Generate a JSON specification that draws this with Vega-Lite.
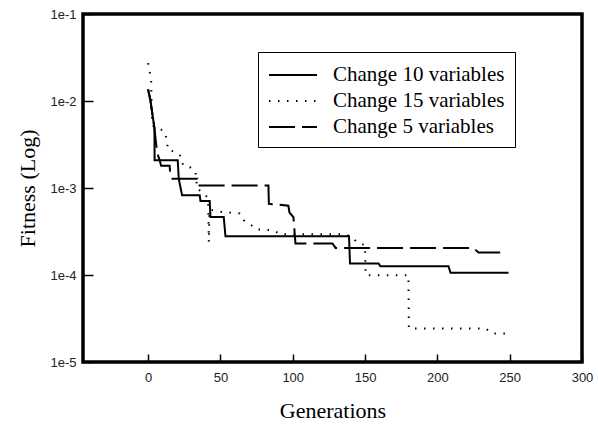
{
  "$schema": "https://vega.github.io/schema/vega-lite/v6.json",
  "width": 499,
  "height": 348,
  "autosize": "none",
  "padding": {"left": 83, "top": 14, "right": 16, "bottom": 63},
  "background": "white",
  "config": {
    "view": {"stroke": "black", "strokeWidth": 3.5},
    "axis": {
      "domain": false,
      "grid": false,
      "ticks": true,
      "tickColor": "black",
      "tickWidth": 1.5,
      "labelFont": "Liberation Sans",
      "labelFontSize": 13,
      "labelColor": "#222",
      "titleFont": "Liberation Serif",
      "titleFontSize": 22,
      "titleFontWeight": "normal",
      "titleColor": "black"
    },
    "legend": {
      "labelFont": "Liberation Serif",
      "labelFontSize": 21,
      "labelColor": "black",
      "labelLimit": 0
    }
  },
  "data": {
    "values": [
      {"s": "Change 10 variables", "g": 0, "f": 0.0136},
      {"s": "Change 10 variables", "g": 1.6, "f": 0.0102},
      {"s": "Change 10 variables", "g": 4.4, "f": 0.00485},
      {"s": "Change 10 variables", "g": 4.5, "f": 0.00208},
      {"s": "Change 10 variables", "g": 20.5, "f": 0.00208},
      {"s": "Change 10 variables", "g": 21.2, "f": 0.00128},
      {"s": "Change 10 variables", "g": 23.5, "f": 0.000824},
      {"s": "Change 10 variables", "g": 35.7, "f": 0.000824},
      {"s": "Change 10 variables", "g": 36.2, "f": 0.00071},
      {"s": "Change 10 variables", "g": 42.6, "f": 0.00071},
      {"s": "Change 10 variables", "g": 43.1, "f": 0.000465},
      {"s": "Change 10 variables", "g": 52.3, "f": 0.000465},
      {"s": "Change 10 variables", "g": 53.5, "f": 0.000279},
      {"s": "Change 10 variables", "g": 138.9, "f": 0.000279},
      {"s": "Change 10 variables", "g": 139.6, "f": 0.000136},
      {"s": "Change 10 variables", "g": 159.3, "f": 0.000136},
      {"s": "Change 10 variables", "g": 160.6, "f": 0.000126},
      {"s": "Change 10 variables", "g": 207.7, "f": 0.000126},
      {"s": "Change 10 variables", "g": 209.1, "f": 0.000106},
      {"s": "Change 10 variables", "g": 249.2, "f": 0.000106},

      {"s": "Change 5 variables", "g": 0, "f": 0.0136},
      {"s": "Change 5 variables", "g": 1.6, "f": 0.0102},
      {"s": "Change 5 variables", "g": 4.4, "f": 0.00485},
      {"s": "Change 5 variables", "g": 6.2, "f": 0.00257},
      {"s": "Change 5 variables", "g": 8.0, "f": 0.00208},
      {"s": "Change 5 variables", "g": 9.0, "f": 0.0018},
      {"s": "Change 5 variables", "g": 14.9, "f": 0.0018},
      {"s": "Change 5 variables", "g": 15.4, "f": 0.0014},
      {"s": "Change 5 variables", "g": 16.8, "f": 0.00128},
      {"s": "Change 5 variables", "g": 34.1, "f": 0.00128},
      {"s": "Change 5 variables", "g": 34.6, "f": 0.00107},
      {"s": "Change 5 variables", "g": 83.2, "f": 0.00107},
      {"s": "Change 5 variables", "g": 83.5, "f": 0.000659},
      {"s": "Change 5 variables", "g": 97.0, "f": 0.000625},
      {"s": "Change 5 variables", "g": 97.7, "f": 0.000526},
      {"s": "Change 5 variables", "g": 100.5, "f": 0.000461},
      {"s": "Change 5 variables", "g": 101.9, "f": 0.00023},
      {"s": "Change 5 variables", "g": 127.5, "f": 0.00023},
      {"s": "Change 5 variables", "g": 129.6, "f": 0.000205},
      {"s": "Change 5 variables", "g": 225.0, "f": 0.000205},
      {"s": "Change 5 variables", "g": 228.4, "f": 0.000181},
      {"s": "Change 5 variables", "g": 245.7, "f": 0.000181},
      {"s": "Change 5 variables", "g": 247.8, "f": 0.000171},

      {"s": "Change 15 variables", "g": 0, "f": 0.0272},
      {"s": "Change 15 variables", "g": 2.1, "f": 0.0176},
      {"s": "Change 15 variables", "g": 2.5, "f": 0.0085},
      {"s": "Change 15 variables", "g": 2.8, "f": 0.00525},
      {"s": "Change 15 variables", "g": 11.3, "f": 0.0045},
      {"s": "Change 15 variables", "g": 13.1, "f": 0.00353},
      {"s": "Change 15 variables", "g": 13.6, "f": 0.00276},
      {"s": "Change 15 variables", "g": 18.9, "f": 0.00259},
      {"s": "Change 15 variables", "g": 22.8, "f": 0.00231},
      {"s": "Change 15 variables", "g": 24.2, "f": 0.00182},
      {"s": "Change 15 variables", "g": 29.3, "f": 0.00172},
      {"s": "Change 15 variables", "g": 32.7, "f": 0.00157},
      {"s": "Change 15 variables", "g": 33.9, "f": 0.000984},
      {"s": "Change 15 variables", "g": 37.3, "f": 0.0009},
      {"s": "Change 15 variables", "g": 40.8, "f": 0.000788},
      {"s": "Change 15 variables", "g": 41.6, "f": 0.00063},
      {"s": "Change 15 variables", "g": 42.0, "f": 0.00024},
      {"s": "Change 15 variables", "g": 42.4, "f": 0.00056},
      {"s": "Change 15 variables", "g": 45.2, "f": 0.000555},
      {"s": "Change 15 variables", "g": 51.2, "f": 0.00053},
      {"s": "Change 15 variables", "g": 63.3, "f": 0.00051},
      {"s": "Change 15 variables", "g": 66.1, "f": 0.000426},
      {"s": "Change 15 variables", "g": 70.7, "f": 0.000382},
      {"s": "Change 15 variables", "g": 74.9, "f": 0.000335},
      {"s": "Change 15 variables", "g": 86.7, "f": 0.000326},
      {"s": "Change 15 variables", "g": 91.5, "f": 0.000294},
      {"s": "Change 15 variables", "g": 136.4, "f": 0.000294},
      {"s": "Change 15 variables", "g": 141.1, "f": 0.000272},
      {"s": "Change 15 variables", "g": 144.7, "f": 0.000235},
      {"s": "Change 15 variables", "g": 150.0, "f": 0.000221},
      {"s": "Change 15 variables", "g": 150.3, "f": 0.000108},
      {"s": "Change 15 variables", "g": 150.6, "f": 0.0000995},
      {"s": "Change 15 variables", "g": 180.0, "f": 0.0000995},
      {"s": "Change 15 variables", "g": 180.3, "f": 0.0000243},
      {"s": "Change 15 variables", "g": 233.3, "f": 0.0000243},
      {"s": "Change 15 variables", "g": 238.1, "f": 0.0000213},
      {"s": "Change 15 variables", "g": 249.2, "f": 0.0000213}
    ]
  },
  "mark": {"type": "line", "color": "black", "strokeWidth": 2, "strokeCap": "butt"},
  "encoding": {
    "x": {
      "field": "g",
      "type": "quantitative",
      "title": "Generations",
      "scale": {"domain": [-45, 300], "nice": false, "zero": false},
      "axis": {"values": [0, 50, 100, 150, 200, 250, 300], "tickSize": -8, "labelPadding": 17, "titlePadding": 16, "labelFlush": false}
    },
    "y": {
      "field": "f",
      "type": "quantitative",
      "title": "Fitness (Log)",
      "scale": {"type": "log", "domain": [0.00001, 0.1], "nice": false},
      "axis": {"values": [0.00001, 0.0001, 0.001, 0.01, 0.1], "labelExpr": "'1e' + round(log(datum.value)/LN10)", "tickSize": -10, "labelPadding": 17, "titlePadding": 10, "labelFlush": false}
    },
    "strokeDash": {
      "field": "s",
      "type": "nominal",
      "scale": {"domain": ["Change 10 variables", "Change 15 variables", "Change 5 variables"], "range": [[1, 0], [1.5, 7.5], [26, 7]]},
      "legend": {
        "title": null,
        "orient": "none",
        "legendX": 175,
        "legendY": 38,
        "padding": 10,
        "strokeColor": "black",
        "fillColor": "white",
        "symbolSize": 576,
        "symbolStrokeWidth": 2,
        "symbolStrokeColor": "black",
        "symbolType": "M-1,0H3",
        "labelOffset": 39,
        "rowPadding": 3
      }
    }
  }
}
